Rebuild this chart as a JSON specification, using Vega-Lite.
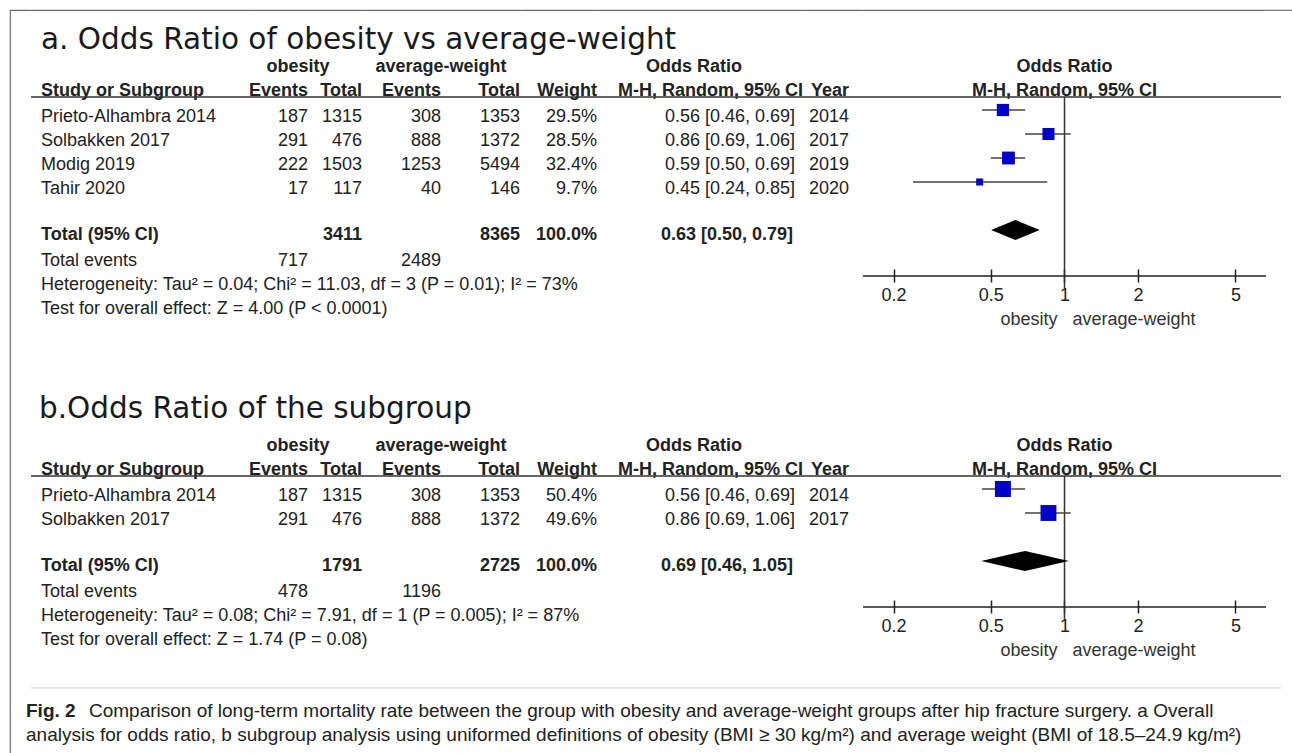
{
  "$schema": "https://vega.github.io/schema/vega-lite/v6.json",
  "background": "white",
  "padding": {"left": 9, "top": 9, "right": 0, "bottom": 0},
  "autosize": {"type": "pad"},
  "config": {
    "view": {"stroke": null},
    "text": {"font": "Liberation Sans", "fontSize": 18, "color": "#222", "baseline": "middle"}
  },
  "datasets": {
    "A": [
      {"row": "t", "title": "a. Odds Ratio of obesity vs average-weight"},
      {"row": "h1", "bold": true, "grp1": "obesity", "grp2": "average-weight", "cihead": "Odds Ratio", "plot": "Odds Ratio"},
      {"row": "h2", "bold": true, "study": "Study or Subgroup", "e1": "Events", "t1": "Total", "e2": "Events", "t2": "Total", "weight": "Weight", "cihead": "M-H, Random, 95% CI", "year": "Year", "plot": "M-H, Random, 95% CI"},
      {"row": "r1", "study": "Prieto-Alhambra 2014", "e1": 187, "t1": 1315, "e2": 308, "t2": 1353, "w": 0.295, "ci": "0.56 [0.46, 0.69]", "year": 2014, "or": 0.56, "lo": 0.46, "hi": 0.69},
      {"row": "r2", "study": "Solbakken 2017", "e1": 291, "t1": 476, "e2": 888, "t2": 1372, "w": 0.285, "ci": "0.86 [0.69, 1.06]", "year": 2017, "or": 0.86, "lo": 0.69, "hi": 1.06},
      {"row": "r3", "study": "Modig 2019", "e1": 222, "t1": 1503, "e2": 1253, "t2": 5494, "w": 0.324, "ci": "0.59 [0.50, 0.69]", "year": 2019, "or": 0.59, "lo": 0.50, "hi": 0.69},
      {"row": "r4", "study": "Tahir 2020", "e1": 17, "t1": 117, "e2": 40, "t2": 146, "w": 0.097, "ci": "0.45 [0.24, 0.85]", "year": 2020, "or": 0.45, "lo": 0.24, "hi": 0.85},
      {"row": "r6", "bold": true, "total": true, "study": "Total (95% CI)", "t1": 3411, "t2": 8365, "w": 1.0, "ci": "0.63 [0.50, 0.79]", "or": 0.63, "lo": 0.50, "hi": 0.79},
      {"row": "r7", "study": "Total events", "e1": 717, "e2": 2489},
      {"row": "r8", "study": "Heterogeneity: Tau² = 0.04; Chi² = 11.03, df = 3 (P = 0.01); I² = 73%"},
      {"row": "r9", "study": "Test for overall effect: Z = 4.00 (P < 0.0001)"}
    ],
    "B": [
      {"row": "t", "title": "b.Odds Ratio of the subgroup"},
      {"row": "h1", "bold": true, "grp1": "obesity", "grp2": "average-weight", "cihead": "Odds Ratio", "plot": "Odds Ratio"},
      {"row": "h2", "bold": true, "study": "Study or Subgroup", "e1": "Events", "t1": "Total", "e2": "Events", "t2": "Total", "weight": "Weight", "cihead": "M-H, Random, 95% CI", "year": "Year", "plot": "M-H, Random, 95% CI"},
      {"row": "r1", "study": "Prieto-Alhambra 2014", "e1": 187, "t1": 1315, "e2": 308, "t2": 1353, "w": 0.504, "ci": "0.56 [0.46, 0.69]", "year": 2014, "or": 0.56, "lo": 0.46, "hi": 0.69},
      {"row": "r2", "study": "Solbakken 2017", "e1": 291, "t1": 476, "e2": 888, "t2": 1372, "w": 0.496, "ci": "0.86 [0.69, 1.06]", "year": 2017, "or": 0.86, "lo": 0.69, "hi": 1.06},
      {"row": "r4", "bold": true, "total": true, "study": "Total (95% CI)", "t1": 1791, "t2": 2725, "w": 1.0, "ci": "0.69 [0.46, 1.05]", "or": 0.69, "lo": 0.46, "hi": 1.05},
      {"row": "r5", "study": "Total events", "e1": 478, "e2": 1196},
      {"row": "r6", "study": "Heterogeneity: Tau² = 0.08; Chi² = 7.91, df = 1 (P = 0.005); I² = 87%"},
      {"row": "r7", "study": "Test for overall effect: Z = 1.74 (P = 0.08)"}
    ],
    "C": [
      {"line": "c1", "sep": true},
      {"line": "c2", "lead": "Fig. 2", "text": "Comparison of long-term mortality rate between the group with obesity and average-weight groups after hip fracture surgery. a Overall"},
      {"line": "c3", "text": "analysis for odds ratio, b subgroup analysis using uniformed definitions of obesity (BMI ≥ 30 kg/m²) and average weight (BMI of 18.5–24.9 kg/m²)"}
    ]
  },
  "columns": 9,
  "spacing": 0,
  "bounds": "flush",
  "align": "each",
  "concat": [
    {"width": 21, "height": 379, "view": {"stroke": "#6e6e6e", "strokeWidth": 1.2, "strokeDash": [21, 400, 379, 0]}, "data": {"values": []}, "mark": "point", "encoding": {}},
    {"width": 223, "height": 379, "data": {"name": "A"}, "view": {"stroke": "#6e6e6e", "strokeWidth": 1.2, "strokeDash": [223, 981]}, "layer": [
      {"transform": [{"filter": "isValid(datum.title)"}], "mark": {"type": "text", "align": "left", "baseline": "alphabetic", "dx": 10, "font": "DejaVu Sans", "fontSize": 29.5, "color": "#1a1a1a"},
       "encoding": {"x": {"value": 0}, "y": {"field": "row", "type": "nominal", "bandPosition": 0.71, "scale": {"type": "band", "domain": ["t","h1","h2","r1","r2","r3","r4","r5","r6","r7","r8","r9","z1","z2"], "paddingInner": 0, "paddingOuter": 0.8958333333, "align": 0.511627907}, "axis": null}, "text": {"field": "title", "type": "nominal"}}},
      {"transform": [{"filter": "isValid(datum.study) && !datum.bold"}], "mark": {"type": "text", "align": "left", "dx": 10, "dy": 1},
       "encoding": {"x": {"value": 0}, "y": {"field": "row", "type": "nominal", "scale": {"type": "band", "domain": ["t","h1","h2","r1","r2","r3","r4","r5","r6","r7","r8","r9","z1","z2"], "paddingInner": 0, "paddingOuter": 0.8958333333, "align": 0.511627907}, "axis": null}, "text": {"field": "study", "type": "nominal"}}},
      {"transform": [{"filter": "isValid(datum.study) && datum.bold"}], "mark": {"type": "text", "align": "left", "dx": 10, "dy": -1.5, "fontWeight": "bold"},
       "encoding": {"x": {"value": 0}, "y": {"field": "row", "type": "nominal", "scale": {"type": "band", "domain": ["t","h1","h2","r1","r2","r3","r4","r5","r6","r7","r8","r9","z1","z2"], "paddingInner": 0, "paddingOuter": 0.8958333333, "align": 0.511627907}, "axis": null}, "text": {"field": "study", "type": "nominal"}}},
      {"transform": [{"filter": "datum.row == 'h2'"}], "mark": {"type": "rule", "color": "#333", "strokeWidth": 1.5},
       "encoding": {"y": {"field": "row", "type": "nominal", "bandPosition": 0.71, "scale": {"type": "band", "domain": ["t","h1","h2","r1","r2","r3","r4","r5","r6","r7","r8","r9","z1","z2"], "paddingInner": 0, "paddingOuter": 0.8958333333, "align": 0.511627907}, "axis": null}}}
    ]},
    {"width": 108, "height": 379, "data": {"name": "A"}, "view": {"stroke": "#6e6e6e", "strokeWidth": 1.2, "strokeDash": [108, 866]}, "layer": [
      {"transform": [{"fold": ["e1", "t1"], "as": ["col", "val"]}, {"filter": "isValid(datum.val) && !datum.bold"}], "mark": {"type": "text", "align": "right", "dy": 1},
       "encoding": {"x": {"field": "col", "type": "nominal", "bandPosition": 1, "scale": {"type": "band", "domain": ["e1", "t1"], "paddingInner": 0, "paddingOuter": 0}, "axis": null},
                    "y": {"field": "row", "type": "nominal", "scale": {"type": "band", "domain": ["t","h1","h2","r1","r2","r3","r4","r5","r6","r7","r8","r9","z1","z2"], "paddingInner": 0, "paddingOuter": 0.8958333333, "align": 0.511627907}, "axis": null}, "text": {"field": "val", "type": "nominal"}}},
      {"transform": [{"fold": ["e1", "t1"], "as": ["col", "val"]}, {"filter": "isValid(datum.val) && datum.bold"}], "mark": {"type": "text", "align": "right", "fontWeight": "bold", "dy": -1.5},
       "encoding": {"x": {"field": "col", "type": "nominal", "bandPosition": 1, "scale": {"type": "band", "domain": ["e1", "t1"], "paddingInner": 0, "paddingOuter": 0}, "axis": null},
                    "y": {"field": "row", "type": "nominal", "scale": {"type": "band", "domain": ["t","h1","h2","r1","r2","r3","r4","r5","r6","r7","r8","r9","z1","z2"], "paddingInner": 0, "paddingOuter": 0.8958333333, "align": 0.511627907}, "axis": null}, "text": {"field": "val", "type": "nominal"}}},
      {"transform": [{"filter": "isValid(datum.grp1)"}], "mark": {"type": "text", "fontWeight": "bold", "dy": -1.5, "dx": -10},
       "encoding": {"y": {"field": "row", "type": "nominal", "scale": {"type": "band", "domain": ["t","h1","h2","r1","r2","r3","r4","r5","r6","r7","r8","r9","z1","z2"], "paddingInner": 0, "paddingOuter": 0.8958333333, "align": 0.511627907}, "axis": null}, "text": {"field": "grp1", "type": "nominal"}}},
      {"transform": [{"filter": "datum.row == 'h2'"}], "mark": {"type": "rule", "color": "#333", "strokeWidth": 1.5},
       "encoding": {"y": {"field": "row", "type": "nominal", "bandPosition": 0.71, "scale": {"type": "band", "domain": ["t","h1","h2","r1","r2","r3","r4","r5","r6","r7","r8","r9","z1","z2"], "paddingInner": 0, "paddingOuter": 0.8958333333, "align": 0.511627907}, "axis": null}}}
    ]},
    {"width": 158, "height": 379, "data": {"name": "A"}, "view": {"stroke": "#6e6e6e", "strokeWidth": 1.2, "strokeDash": [158, 916]}, "layer": [
      {"transform": [{"fold": ["e2", "t2"], "as": ["col", "val"]}, {"filter": "isValid(datum.val) && !datum.bold"}], "mark": {"type": "text", "align": "right", "dy": 1},
       "encoding": {"x": {"field": "col", "type": "nominal", "bandPosition": 1, "scale": {"type": "band", "domain": ["e2", "t2"], "paddingInner": 0, "paddingOuter": 0}, "axis": null},
                    "y": {"field": "row", "type": "nominal", "scale": {"type": "band", "domain": ["t","h1","h2","r1","r2","r3","r4","r5","r6","r7","r8","r9","z1","z2"], "paddingInner": 0, "paddingOuter": 0.8958333333, "align": 0.511627907}, "axis": null}, "text": {"field": "val", "type": "nominal"}}},
      {"transform": [{"fold": ["e2", "t2"], "as": ["col", "val"]}, {"filter": "isValid(datum.val) && datum.bold"}], "mark": {"type": "text", "align": "right", "fontWeight": "bold", "dy": -1.5},
       "encoding": {"x": {"field": "col", "type": "nominal", "bandPosition": 1, "scale": {"type": "band", "domain": ["e2", "t2"], "paddingInner": 0, "paddingOuter": 0}, "axis": null},
                    "y": {"field": "row", "type": "nominal", "scale": {"type": "band", "domain": ["t","h1","h2","r1","r2","r3","r4","r5","r6","r7","r8","r9","z1","z2"], "paddingInner": 0, "paddingOuter": 0.8958333333, "align": 0.511627907}, "axis": null}, "text": {"field": "val", "type": "nominal"}}},
      {"transform": [{"filter": "isValid(datum.grp2)"}], "mark": {"type": "text", "fontWeight": "bold", "dy": -1.5},
       "encoding": {"y": {"field": "row", "type": "nominal", "scale": {"type": "band", "domain": ["t","h1","h2","r1","r2","r3","r4","r5","r6","r7","r8","r9","z1","z2"], "paddingInner": 0, "paddingOuter": 0.8958333333, "align": 0.511627907}, "axis": null}, "text": {"field": "grp2", "type": "nominal"}}},
      {"transform": [{"filter": "datum.row == 'h2'"}], "mark": {"type": "rule", "color": "#333", "strokeWidth": 1.5},
       "encoding": {"y": {"field": "row", "type": "nominal", "bandPosition": 0.71, "scale": {"type": "band", "domain": ["t","h1","h2","r1","r2","r3","r4","r5","r6","r7","r8","r9","z1","z2"], "paddingInner": 0, "paddingOuter": 0.8958333333, "align": 0.511627907}, "axis": null}}}
    ]},
    {"width": 77, "height": 379, "data": {"name": "A"}, "view": {"stroke": "#6e6e6e", "strokeWidth": 1.2, "strokeDash": [77, 835]}, "layer": [
      {"transform": [{"filter": "isValid(datum.w) && !datum.total"}], "mark": {"type": "text", "align": "right", "dy": 1},
       "encoding": {"x": {"value": "width"}, "y": {"field": "row", "type": "nominal", "scale": {"type": "band", "domain": ["t","h1","h2","r1","r2","r3","r4","r5","r6","r7","r8","r9","z1","z2"], "paddingInner": 0, "paddingOuter": 0.8958333333, "align": 0.511627907}, "axis": null}, "text": {"field": "w", "type": "quantitative", "format": ".1%"}}},
      {"transform": [{"filter": "datum.total"}], "mark": {"type": "text", "align": "right", "fontWeight": "bold", "dy": -1.5},
       "encoding": {"x": {"value": "width"}, "y": {"field": "row", "type": "nominal", "scale": {"type": "band", "domain": ["t","h1","h2","r1","r2","r3","r4","r5","r6","r7","r8","r9","z1","z2"], "paddingInner": 0, "paddingOuter": 0.8958333333, "align": 0.511627907}, "axis": null}, "text": {"field": "w", "type": "quantitative", "format": ".1%"}}},
      {"transform": [{"filter": "isValid(datum.weight)"}], "mark": {"type": "text", "align": "right", "fontWeight": "bold", "dy": -1.5},
       "encoding": {"x": {"value": "width"}, "y": {"field": "row", "type": "nominal", "scale": {"type": "band", "domain": ["t","h1","h2","r1","r2","r3","r4","r5","r6","r7","r8","r9","z1","z2"], "paddingInner": 0, "paddingOuter": 0.8958333333, "align": 0.511627907}, "axis": null}, "text": {"field": "weight", "type": "nominal"}}},
      {"transform": [{"filter": "datum.row == 'h2'"}], "mark": {"type": "rule", "color": "#333", "strokeWidth": 1.5},
       "encoding": {"y": {"field": "row", "type": "nominal", "bandPosition": 0.71, "scale": {"type": "band", "domain": ["t","h1","h2","r1","r2","r3","r4","r5","r6","r7","r8","r9","z1","z2"], "paddingInner": 0, "paddingOuter": 0.8958333333, "align": 0.511627907}, "axis": null}}}
    ]},
    {"width": 206, "height": 379, "data": {"name": "A"}, "view": {"stroke": "#6e6e6e", "strokeWidth": 1.2, "strokeDash": [206, 964]}, "layer": [
      {"transform": [{"filter": "isValid(datum.ci) && !datum.total"}], "mark": {"type": "text", "align": "right", "dx": -8, "dy": 1},
       "encoding": {"x": {"value": "width"}, "y": {"field": "row", "type": "nominal", "scale": {"type": "band", "domain": ["t","h1","h2","r1","r2","r3","r4","r5","r6","r7","r8","r9","z1","z2"], "paddingInner": 0, "paddingOuter": 0.8958333333, "align": 0.511627907}, "axis": null}, "text": {"field": "ci", "type": "nominal"}}},
      {"transform": [{"filter": "datum.total"}], "mark": {"type": "text", "align": "right", "dx": -10, "dy": -1.5, "fontWeight": "bold"},
       "encoding": {"x": {"value": "width"}, "y": {"field": "row", "type": "nominal", "scale": {"type": "band", "domain": ["t","h1","h2","r1","r2","r3","r4","r5","r6","r7","r8","r9","z1","z2"], "paddingInner": 0, "paddingOuter": 0.8958333333, "align": 0.511627907}, "axis": null}, "text": {"field": "ci", "type": "nominal"}}},
      {"transform": [{"filter": "datum.row == 'h2'"}], "mark": {"type": "text", "align": "right", "dy": -1.5, "fontWeight": "bold"},
       "encoding": {"x": {"value": "width"}, "y": {"field": "row", "type": "nominal", "scale": {"type": "band", "domain": ["t","h1","h2","r1","r2","r3","r4","r5","r6","r7","r8","r9","z1","z2"], "paddingInner": 0, "paddingOuter": 0.8958333333, "align": 0.511627907}, "axis": null}, "text": {"field": "cihead", "type": "nominal"}}},
      {"transform": [{"filter": "datum.row == 'h1'"}], "mark": {"type": "text", "dx": -6, "dy": -1.5, "fontWeight": "bold"},
       "encoding": {"y": {"field": "row", "type": "nominal", "scale": {"type": "band", "domain": ["t","h1","h2","r1","r2","r3","r4","r5","r6","r7","r8","r9","z1","z2"], "paddingInner": 0, "paddingOuter": 0.8958333333, "align": 0.511627907}, "axis": null}, "text": {"field": "cihead", "type": "nominal"}}},
      {"transform": [{"filter": "datum.row == 'h2'"}], "mark": {"type": "rule", "color": "#333", "strokeWidth": 1.5},
       "encoding": {"y": {"field": "row", "type": "nominal", "bandPosition": 0.71, "scale": {"type": "band", "domain": ["t","h1","h2","r1","r2","r3","r4","r5","r6","r7","r8","r9","z1","z2"], "paddingInner": 0, "paddingOuter": 0.8958333333, "align": 0.511627907}, "axis": null}}}
    ]},
    {"width": 60, "height": 379, "data": {"name": "A"}, "view": {"stroke": "#6e6e6e", "strokeWidth": 1.2, "strokeDash": [60, 818]}, "layer": [
      {"transform": [{"filter": "isValid(datum.year) && !datum.bold"}], "mark": {"type": "text", "align": "right", "dx": -14, "dy": 1},
       "encoding": {"x": {"value": "width"}, "y": {"field": "row", "type": "nominal", "scale": {"type": "band", "domain": ["t","h1","h2","r1","r2","r3","r4","r5","r6","r7","r8","r9","z1","z2"], "paddingInner": 0, "paddingOuter": 0.8958333333, "align": 0.511627907}, "axis": null}, "text": {"field": "year", "type": "nominal"}}},
      {"transform": [{"filter": "isValid(datum.year) && datum.bold"}], "mark": {"type": "text", "align": "right", "dx": -14, "dy": -1.5, "fontWeight": "bold"},
       "encoding": {"x": {"value": "width"}, "y": {"field": "row", "type": "nominal", "scale": {"type": "band", "domain": ["t","h1","h2","r1","r2","r3","r4","r5","r6","r7","r8","r9","z1","z2"], "paddingInner": 0, "paddingOuter": 0.8958333333, "align": 0.511627907}, "axis": null}, "text": {"field": "year", "type": "nominal"}}},
      {"transform": [{"filter": "datum.row == 'h2'"}], "mark": {"type": "rule", "color": "#333", "strokeWidth": 1.5},
       "encoding": {"y": {"field": "row", "type": "nominal", "bandPosition": 0.71, "scale": {"type": "band", "domain": ["t","h1","h2","r1","r2","r3","r4","r5","r6","r7","r8","r9","z1","z2"], "paddingInner": 0, "paddingOuter": 0.8958333333, "align": 0.511627907}, "axis": null}}}
    ]},
    {"width": 403, "height": 379, "data": {"name": "A"}, "view": {"stroke": "#6e6e6e", "strokeWidth": 1.2, "strokeDash": [403, 1161]}, "layer": [
      {"transform": [{"filter": "isValid(datum.plot)"}], "mark": {"type": "text", "fontWeight": "bold", "dy": -1.5},
       "encoding": {"x": {"datum": 1, "type": "quantitative", "scale": {"type": "log", "domain": [0.15, 6.667]}},
                    "y": {"field": "row", "type": "nominal", "scale": {"type": "band", "domain": ["t","h1","h2","r1","r2","r3","r4","r5","r6","r7","r8","r9","z1","z2"], "paddingInner": 0, "paddingOuter": 0.8958333333, "align": 0.511627907}, "axis": null}, "text": {"field": "plot", "type": "nominal"}}},
      {"transform": [{"filter": "datum.row == 'h2'"}], "mark": {"type": "rule", "color": "#333", "strokeWidth": 1.5},
       "encoding": {"x": {"datum": 0.15, "type": "quantitative", "scale": {"type": "log", "domain": [0.15, 6.667]}}, "x2": {"datum": 7.68},
                    "y": {"field": "row", "type": "nominal", "bandPosition": 0.71, "scale": {"type": "band", "domain": ["t","h1","h2","r1","r2","r3","r4","r5","r6","r7","r8","r9","z1","z2"], "paddingInner": 0, "paddingOuter": 0.8958333333, "align": 0.511627907}, "axis": null}}},
      {"transform": [{"filter": "datum.row == 'h2'"}], "mark": {"type": "rule", "color": "#333", "strokeWidth": 1.5, "y2Offset": 4},
       "encoding": {"x": {"datum": 1, "type": "quantitative", "scale": {"type": "log", "domain": [0.15, 6.667]}},
                    "y": {"field": "row", "type": "nominal", "bandPosition": 0.71, "scale": {"type": "band", "domain": ["t","h1","h2","r1","r2","r3","r4","r5","r6","r7","r8","r9","z1","z2"], "paddingInner": 0, "paddingOuter": 0.8958333333, "align": 0.511627907}, "axis": null},
                    "y2": {"datum": "r8"}}},
      {"transform": [{"filter": "datum.row == 'r8'"}], "mark": {"type": "rule", "color": "#222", "strokeWidth": 1.5},
       "encoding": {"x": {"datum": 0.15, "type": "quantitative", "scale": {"type": "log", "domain": [0.15, 6.667]}}, "x2": {"datum": 6.667},
                    "y": {"field": "row", "type": "nominal", "bandPosition": 0.17, "scale": {"type": "band", "domain": ["t","h1","h2","r1","r2","r3","r4","r5","r6","r7","r8","r9","z1","z2"], "paddingInner": 0, "paddingOuter": 0.8958333333, "align": 0.511627907}, "axis": null}}},
      {"transform": [{"filter": "isValid(datum.lo) && !datum.total"}], "mark": {"type": "rule", "color": "#444", "strokeWidth": 1.5},
       "encoding": {"x": {"field": "lo", "type": "quantitative", "scale": {"type": "log", "domain": [0.15, 6.667]}, "axis": {"title": null}}, "x2": {"field": "hi"},
                    "y": {"field": "row", "type": "nominal", "bandPosition": 0.25, "scale": {"type": "band", "domain": ["t","h1","h2","r1","r2","r3","r4","r5","r6","r7","r8","r9","z1","z2"], "paddingInner": 0, "paddingOuter": 0.8958333333, "align": 0.511627907}, "axis": null}}},
      {"transform": [{"filter": "isValid(datum.or) && !datum.total"}], "mark": {"type": "point", "shape": "square", "filled": true, "color": "#0000c8", "opacity": 1},
       "encoding": {"x": {"field": "or", "type": "quantitative", "scale": {"type": "log", "domain": [0.15, 6.667]},
                          "axis": {"title": null, "orient": "bottom", "offset": -120, "values": [0.2, 0.5, 1, 2, 5], "format": "~g", "domain": false, "grid": false, "ticks": true, "tickSize": 13, "tickWidth": 1.5, "tickColor": "#222", "labelFont": "Liberation Sans", "labelFontSize": 18, "labelColor": "#222", "labelPadding": 4}},
                    "y": {"field": "row", "type": "nominal", "bandPosition": 0.25, "scale": {"type": "band", "domain": ["t","h1","h2","r1","r2","r3","r4","r5","r6","r7","r8","r9","z1","z2"], "paddingInner": 0, "paddingOuter": 0.8958333333, "align": 0.511627907}, "axis": null},
                    "size": {"field": "w", "type": "quantitative", "scale": {"domain": [0, 0.504], "range": [0, 256]}, "legend": null}}},
      {"transform": [{"filter": "datum.total"}], "mark": {"type": "point", "shape": "M-1,0L0,-0.41L1,0L0,0.41Z", "filled": true, "color": "#000", "opacity": 1, "size": 2362},
       "encoding": {"x": {"field": "or", "type": "quantitative", "scale": {"type": "log", "domain": [0.15, 6.667]}, "axis": {"title": null}},
                    "y": {"field": "row", "type": "nominal", "bandPosition": 0.25, "scale": {"type": "band", "domain": ["t","h1","h2","r1","r2","r3","r4","r5","r6","r7","r8","r9","z1","z2"], "paddingInner": 0, "paddingOuter": 0.8958333333, "align": 0.511627907}, "axis": null}}},
      {"data": {"values": [{"row": "r9", "label": "obesity"}]}, "mark": {"type": "text", "align": "right", "dx": -7, "color": "#333"},
       "encoding": {"x": {"datum": 1, "type": "quantitative", "scale": {"type": "log", "domain": [0.15, 6.667]}}, "y": {"field": "row", "type": "nominal", "bandPosition": 1, "scale": {"type": "band", "domain": ["t","h1","h2","r1","r2","r3","r4","r5","r6","r7","r8","r9","z1","z2"], "paddingInner": 0, "paddingOuter": 0.8958333333, "align": 0.511627907}, "axis": null}, "text": {"field": "label", "type": "nominal"}}},
      {"data": {"values": [{"row": "r9", "label": "average-weight"}]}, "mark": {"type": "text", "align": "left", "dx": 8, "color": "#333"},
       "encoding": {"x": {"datum": 1, "type": "quantitative", "scale": {"type": "log", "domain": [0.15, 6.667]}}, "y": {"field": "row", "type": "nominal", "bandPosition": 1, "scale": {"type": "band", "domain": ["t","h1","h2","r1","r2","r3","r4","r5","r6","r7","r8","r9","z1","z2"], "paddingInner": 0, "paddingOuter": 0.8958333333, "align": 0.511627907}, "axis": null}, "text": {"field": "label", "type": "nominal"}}}
    ]},
    {"width": 26, "height": 379, "view": {"stroke": "#6e6e6e", "strokeWidth": 1.2, "strokeDash": [26, 784]}, "data": {"values": []}, "mark": "point", "encoding": {}},

    {"width": 21, "height": 364, "view": {"stroke": "#6e6e6e", "strokeWidth": 1.2, "strokeDash": [0, 406, 364, 0]}, "data": {"values": []}, "mark": "point", "encoding": {}},
    {"width": 223, "height": 364, "data": {"name": "B"}, "layer": [
      {"transform": [{"filter": "isValid(datum.title)"}], "mark": {"type": "text", "align": "left", "baseline": "alphabetic", "dx": 8, "font": "DejaVu Sans", "fontSize": 29.5, "color": "#1a1a1a"},
       "encoding": {"x": {"value": 0}, "y": {"field": "row", "type": "nominal", "bandPosition": 0.29, "scale": {"type": "band", "domain": ["t","h1","h2","r1","r2","r3","r4","r5","r6","r7","c0","c1","c2","c3"], "paddingInner": 0, "paddingOuter": 0.5833333333, "align": 0.7857142857}, "axis": null}, "text": {"field": "title", "type": "nominal"}}},
      {"transform": [{"filter": "isValid(datum.study) && !datum.bold"}], "mark": {"type": "text", "align": "left", "dx": 10, "dy": 1},
       "encoding": {"x": {"value": 0}, "y": {"field": "row", "type": "nominal", "scale": {"type": "band", "domain": ["t","h1","h2","r1","r2","r3","r4","r5","r6","r7","c0","c1","c2","c3"], "paddingInner": 0, "paddingOuter": 0.5833333333, "align": 0.7857142857}, "axis": null}, "text": {"field": "study", "type": "nominal"}}},
      {"transform": [{"filter": "isValid(datum.study) && datum.bold"}], "mark": {"type": "text", "align": "left", "dx": 10, "dy": -1.5, "fontWeight": "bold"},
       "encoding": {"x": {"value": 0}, "y": {"field": "row", "type": "nominal", "scale": {"type": "band", "domain": ["t","h1","h2","r1","r2","r3","r4","r5","r6","r7","c0","c1","c2","c3"], "paddingInner": 0, "paddingOuter": 0.5833333333, "align": 0.7857142857}, "axis": null}, "text": {"field": "study", "type": "nominal"}}},
      {"transform": [{"filter": "datum.row == 'h2'"}], "mark": {"type": "rule", "color": "#333", "strokeWidth": 1.5},
       "encoding": {"y": {"field": "row", "type": "nominal", "bandPosition": 0.71, "scale": {"type": "band", "domain": ["t","h1","h2","r1","r2","r3","r4","r5","r6","r7","c0","c1","c2","c3"], "paddingInner": 0, "paddingOuter": 0.5833333333, "align": 0.7857142857}, "axis": null}}},
      {"data": {"name": "C"}, "transform": [{"filter": "datum.sep"}], "mark": {"type": "rule", "color": "#d0d0d0", "strokeWidth": 1},
       "encoding": {"y": {"field": "line", "type": "nominal", "bandPosition": 0.54, "scale": {"type": "band", "domain": ["t","h1","h2","r1","r2","r3","r4","r5","r6","r7","c0","c1","c2","c3"], "paddingInner": 0, "paddingOuter": 0.5833333333, "align": 0.7857142857}, "axis": null}}},
      {"data": {"name": "C"}, "transform": [{"filter": "datum.line == 'c2'"}], "mark": {"type": "text", "align": "left", "dx": 58, "fontSize": 19, "color": "#222"},
       "encoding": {"x": {"value": 0}, "y": {"field": "line", "type": "nominal", "scale": {"type": "band", "domain": ["t","h1","h2","r1","r2","r3","r4","r5","r6","r7","c0","c1","c2","c3"], "paddingInner": 0, "paddingOuter": 0.5833333333, "align": 0.7857142857}, "axis": null}, "text": {"field": "text", "type": "nominal"}}},
      {"data": {"name": "C"}, "transform": [{"filter": "datum.line == 'c3'"}], "mark": {"type": "text", "align": "left", "dx": -5, "fontSize": 19, "color": "#222"},
       "encoding": {"x": {"value": 0}, "y": {"field": "line", "type": "nominal", "scale": {"type": "band", "domain": ["t","h1","h2","r1","r2","r3","r4","r5","r6","r7","c0","c1","c2","c3"], "paddingInner": 0, "paddingOuter": 0.5833333333, "align": 0.7857142857}, "axis": null}, "text": {"field": "text", "type": "nominal"}}},
      {"data": {"name": "C"}, "transform": [{"filter": "isValid(datum.lead)"}], "mark": {"type": "text", "align": "left", "dx": -5, "fontSize": 19, "fontWeight": "bold", "color": "#222"},
       "encoding": {"x": {"value": 0}, "y": {"field": "line", "type": "nominal", "scale": {"type": "band", "domain": ["t","h1","h2","r1","r2","r3","r4","r5","r6","r7","c0","c1","c2","c3"], "paddingInner": 0, "paddingOuter": 0.5833333333, "align": 0.7857142857}, "axis": null}, "text": {"field": "lead", "type": "nominal"}}}
    ]},
    {"width": 108, "height": 364, "data": {"name": "B"}, "layer": [
      {"transform": [{"fold": ["e1", "t1"], "as": ["col", "val"]}, {"filter": "isValid(datum.val) && !datum.bold"}], "mark": {"type": "text", "align": "right", "dy": 1},
       "encoding": {"x": {"field": "col", "type": "nominal", "bandPosition": 1, "scale": {"type": "band", "domain": ["e1", "t1"], "paddingInner": 0, "paddingOuter": 0}, "axis": null},
                    "y": {"field": "row", "type": "nominal", "scale": {"type": "band", "domain": ["t","h1","h2","r1","r2","r3","r4","r5","r6","r7","c0","c1","c2","c3"], "paddingInner": 0, "paddingOuter": 0.5833333333, "align": 0.7857142857}, "axis": null}, "text": {"field": "val", "type": "nominal"}}},
      {"transform": [{"fold": ["e1", "t1"], "as": ["col", "val"]}, {"filter": "isValid(datum.val) && datum.bold"}], "mark": {"type": "text", "align": "right", "fontWeight": "bold", "dy": -1.5},
       "encoding": {"x": {"field": "col", "type": "nominal", "bandPosition": 1, "scale": {"type": "band", "domain": ["e1", "t1"], "paddingInner": 0, "paddingOuter": 0}, "axis": null},
                    "y": {"field": "row", "type": "nominal", "scale": {"type": "band", "domain": ["t","h1","h2","r1","r2","r3","r4","r5","r6","r7","c0","c1","c2","c3"], "paddingInner": 0, "paddingOuter": 0.5833333333, "align": 0.7857142857}, "axis": null}, "text": {"field": "val", "type": "nominal"}}},
      {"transform": [{"filter": "isValid(datum.grp1)"}], "mark": {"type": "text", "fontWeight": "bold", "dy": -1.5, "dx": -10},
       "encoding": {"y": {"field": "row", "type": "nominal", "scale": {"type": "band", "domain": ["t","h1","h2","r1","r2","r3","r4","r5","r6","r7","c0","c1","c2","c3"], "paddingInner": 0, "paddingOuter": 0.5833333333, "align": 0.7857142857}, "axis": null}, "text": {"field": "grp1", "type": "nominal"}}},
      {"transform": [{"filter": "datum.row == 'h2'"}], "mark": {"type": "rule", "color": "#333", "strokeWidth": 1.5},
       "encoding": {"y": {"field": "row", "type": "nominal", "bandPosition": 0.71, "scale": {"type": "band", "domain": ["t","h1","h2","r1","r2","r3","r4","r5","r6","r7","c0","c1","c2","c3"], "paddingInner": 0, "paddingOuter": 0.5833333333, "align": 0.7857142857}, "axis": null}}},
      {"data": {"name": "C"}, "transform": [{"filter": "datum.sep"}], "mark": {"type": "rule", "color": "#d0d0d0", "strokeWidth": 1},
       "encoding": {"y": {"field": "line", "type": "nominal", "bandPosition": 0.54, "scale": {"type": "band", "domain": ["t","h1","h2","r1","r2","r3","r4","r5","r6","r7","c0","c1","c2","c3"], "paddingInner": 0, "paddingOuter": 0.5833333333, "align": 0.7857142857}, "axis": null}}}
    ]},
    {"width": 158, "height": 364, "data": {"name": "B"}, "layer": [
      {"transform": [{"fold": ["e2", "t2"], "as": ["col", "val"]}, {"filter": "isValid(datum.val) && !datum.bold"}], "mark": {"type": "text", "align": "right", "dy": 1},
       "encoding": {"x": {"field": "col", "type": "nominal", "bandPosition": 1, "scale": {"type": "band", "domain": ["e2", "t2"], "paddingInner": 0, "paddingOuter": 0}, "axis": null},
                    "y": {"field": "row", "type": "nominal", "scale": {"type": "band", "domain": ["t","h1","h2","r1","r2","r3","r4","r5","r6","r7","c0","c1","c2","c3"], "paddingInner": 0, "paddingOuter": 0.5833333333, "align": 0.7857142857}, "axis": null}, "text": {"field": "val", "type": "nominal"}}},
      {"transform": [{"fold": ["e2", "t2"], "as": ["col", "val"]}, {"filter": "isValid(datum.val) && datum.bold"}], "mark": {"type": "text", "align": "right", "fontWeight": "bold", "dy": -1.5},
       "encoding": {"x": {"field": "col", "type": "nominal", "bandPosition": 1, "scale": {"type": "band", "domain": ["e2", "t2"], "paddingInner": 0, "paddingOuter": 0}, "axis": null},
                    "y": {"field": "row", "type": "nominal", "scale": {"type": "band", "domain": ["t","h1","h2","r1","r2","r3","r4","r5","r6","r7","c0","c1","c2","c3"], "paddingInner": 0, "paddingOuter": 0.5833333333, "align": 0.7857142857}, "axis": null}, "text": {"field": "val", "type": "nominal"}}},
      {"transform": [{"filter": "isValid(datum.grp2)"}], "mark": {"type": "text", "fontWeight": "bold", "dy": -1.5},
       "encoding": {"y": {"field": "row", "type": "nominal", "scale": {"type": "band", "domain": ["t","h1","h2","r1","r2","r3","r4","r5","r6","r7","c0","c1","c2","c3"], "paddingInner": 0, "paddingOuter": 0.5833333333, "align": 0.7857142857}, "axis": null}, "text": {"field": "grp2", "type": "nominal"}}},
      {"transform": [{"filter": "datum.row == 'h2'"}], "mark": {"type": "rule", "color": "#333", "strokeWidth": 1.5},
       "encoding": {"y": {"field": "row", "type": "nominal", "bandPosition": 0.71, "scale": {"type": "band", "domain": ["t","h1","h2","r1","r2","r3","r4","r5","r6","r7","c0","c1","c2","c3"], "paddingInner": 0, "paddingOuter": 0.5833333333, "align": 0.7857142857}, "axis": null}}},
      {"data": {"name": "C"}, "transform": [{"filter": "datum.sep"}], "mark": {"type": "rule", "color": "#d0d0d0", "strokeWidth": 1},
       "encoding": {"y": {"field": "line", "type": "nominal", "bandPosition": 0.54, "scale": {"type": "band", "domain": ["t","h1","h2","r1","r2","r3","r4","r5","r6","r7","c0","c1","c2","c3"], "paddingInner": 0, "paddingOuter": 0.5833333333, "align": 0.7857142857}, "axis": null}}}
    ]},
    {"width": 77, "height": 364, "data": {"name": "B"}, "layer": [
      {"transform": [{"filter": "isValid(datum.w) && !datum.total"}], "mark": {"type": "text", "align": "right", "dy": 1},
       "encoding": {"x": {"value": "width"}, "y": {"field": "row", "type": "nominal", "scale": {"type": "band", "domain": ["t","h1","h2","r1","r2","r3","r4","r5","r6","r7","c0","c1","c2","c3"], "paddingInner": 0, "paddingOuter": 0.5833333333, "align": 0.7857142857}, "axis": null}, "text": {"field": "w", "type": "quantitative", "format": ".1%"}}},
      {"transform": [{"filter": "datum.total"}], "mark": {"type": "text", "align": "right", "fontWeight": "bold", "dy": -1.5},
       "encoding": {"x": {"value": "width"}, "y": {"field": "row", "type": "nominal", "scale": {"type": "band", "domain": ["t","h1","h2","r1","r2","r3","r4","r5","r6","r7","c0","c1","c2","c3"], "paddingInner": 0, "paddingOuter": 0.5833333333, "align": 0.7857142857}, "axis": null}, "text": {"field": "w", "type": "quantitative", "format": ".1%"}}},
      {"transform": [{"filter": "isValid(datum.weight)"}], "mark": {"type": "text", "align": "right", "fontWeight": "bold", "dy": -1.5},
       "encoding": {"x": {"value": "width"}, "y": {"field": "row", "type": "nominal", "scale": {"type": "band", "domain": ["t","h1","h2","r1","r2","r3","r4","r5","r6","r7","c0","c1","c2","c3"], "paddingInner": 0, "paddingOuter": 0.5833333333, "align": 0.7857142857}, "axis": null}, "text": {"field": "weight", "type": "nominal"}}},
      {"transform": [{"filter": "datum.row == 'h2'"}], "mark": {"type": "rule", "color": "#333", "strokeWidth": 1.5},
       "encoding": {"y": {"field": "row", "type": "nominal", "bandPosition": 0.71, "scale": {"type": "band", "domain": ["t","h1","h2","r1","r2","r3","r4","r5","r6","r7","c0","c1","c2","c3"], "paddingInner": 0, "paddingOuter": 0.5833333333, "align": 0.7857142857}, "axis": null}}},
      {"data": {"name": "C"}, "transform": [{"filter": "datum.sep"}], "mark": {"type": "rule", "color": "#d0d0d0", "strokeWidth": 1},
       "encoding": {"y": {"field": "line", "type": "nominal", "bandPosition": 0.54, "scale": {"type": "band", "domain": ["t","h1","h2","r1","r2","r3","r4","r5","r6","r7","c0","c1","c2","c3"], "paddingInner": 0, "paddingOuter": 0.5833333333, "align": 0.7857142857}, "axis": null}}}
    ]},
    {"width": 206, "height": 364, "data": {"name": "B"}, "layer": [
      {"transform": [{"filter": "isValid(datum.ci) && !datum.total"}], "mark": {"type": "text", "align": "right", "dx": -8, "dy": 1},
       "encoding": {"x": {"value": "width"}, "y": {"field": "row", "type": "nominal", "scale": {"type": "band", "domain": ["t","h1","h2","r1","r2","r3","r4","r5","r6","r7","c0","c1","c2","c3"], "paddingInner": 0, "paddingOuter": 0.5833333333, "align": 0.7857142857}, "axis": null}, "text": {"field": "ci", "type": "nominal"}}},
      {"transform": [{"filter": "datum.total"}], "mark": {"type": "text", "align": "right", "dx": -10, "dy": -1.5, "fontWeight": "bold"},
       "encoding": {"x": {"value": "width"}, "y": {"field": "row", "type": "nominal", "scale": {"type": "band", "domain": ["t","h1","h2","r1","r2","r3","r4","r5","r6","r7","c0","c1","c2","c3"], "paddingInner": 0, "paddingOuter": 0.5833333333, "align": 0.7857142857}, "axis": null}, "text": {"field": "ci", "type": "nominal"}}},
      {"transform": [{"filter": "datum.row == 'h2'"}], "mark": {"type": "text", "align": "right", "dy": -1.5, "fontWeight": "bold"},
       "encoding": {"x": {"value": "width"}, "y": {"field": "row", "type": "nominal", "scale": {"type": "band", "domain": ["t","h1","h2","r1","r2","r3","r4","r5","r6","r7","c0","c1","c2","c3"], "paddingInner": 0, "paddingOuter": 0.5833333333, "align": 0.7857142857}, "axis": null}, "text": {"field": "cihead", "type": "nominal"}}},
      {"transform": [{"filter": "datum.row == 'h1'"}], "mark": {"type": "text", "dx": -6, "dy": -1.5, "fontWeight": "bold"},
       "encoding": {"y": {"field": "row", "type": "nominal", "scale": {"type": "band", "domain": ["t","h1","h2","r1","r2","r3","r4","r5","r6","r7","c0","c1","c2","c3"], "paddingInner": 0, "paddingOuter": 0.5833333333, "align": 0.7857142857}, "axis": null}, "text": {"field": "cihead", "type": "nominal"}}},
      {"transform": [{"filter": "datum.row == 'h2'"}], "mark": {"type": "rule", "color": "#333", "strokeWidth": 1.5},
       "encoding": {"y": {"field": "row", "type": "nominal", "bandPosition": 0.71, "scale": {"type": "band", "domain": ["t","h1","h2","r1","r2","r3","r4","r5","r6","r7","c0","c1","c2","c3"], "paddingInner": 0, "paddingOuter": 0.5833333333, "align": 0.7857142857}, "axis": null}}},
      {"data": {"name": "C"}, "transform": [{"filter": "datum.sep"}], "mark": {"type": "rule", "color": "#d0d0d0", "strokeWidth": 1},
       "encoding": {"y": {"field": "line", "type": "nominal", "bandPosition": 0.54, "scale": {"type": "band", "domain": ["t","h1","h2","r1","r2","r3","r4","r5","r6","r7","c0","c1","c2","c3"], "paddingInner": 0, "paddingOuter": 0.5833333333, "align": 0.7857142857}, "axis": null}}}
    ]},
    {"width": 60, "height": 364, "data": {"name": "B"}, "layer": [
      {"transform": [{"filter": "isValid(datum.year) && !datum.bold"}], "mark": {"type": "text", "align": "right", "dx": -14, "dy": 1},
       "encoding": {"x": {"value": "width"}, "y": {"field": "row", "type": "nominal", "scale": {"type": "band", "domain": ["t","h1","h2","r1","r2","r3","r4","r5","r6","r7","c0","c1","c2","c3"], "paddingInner": 0, "paddingOuter": 0.5833333333, "align": 0.7857142857}, "axis": null}, "text": {"field": "year", "type": "nominal"}}},
      {"transform": [{"filter": "isValid(datum.year) && datum.bold"}], "mark": {"type": "text", "align": "right", "dx": -14, "dy": -1.5, "fontWeight": "bold"},
       "encoding": {"x": {"value": "width"}, "y": {"field": "row", "type": "nominal", "scale": {"type": "band", "domain": ["t","h1","h2","r1","r2","r3","r4","r5","r6","r7","c0","c1","c2","c3"], "paddingInner": 0, "paddingOuter": 0.5833333333, "align": 0.7857142857}, "axis": null}, "text": {"field": "year", "type": "nominal"}}},
      {"transform": [{"filter": "datum.row == 'h2'"}], "mark": {"type": "rule", "color": "#333", "strokeWidth": 1.5},
       "encoding": {"y": {"field": "row", "type": "nominal", "bandPosition": 0.71, "scale": {"type": "band", "domain": ["t","h1","h2","r1","r2","r3","r4","r5","r6","r7","c0","c1","c2","c3"], "paddingInner": 0, "paddingOuter": 0.5833333333, "align": 0.7857142857}, "axis": null}}},
      {"data": {"name": "C"}, "transform": [{"filter": "datum.sep"}], "mark": {"type": "rule", "color": "#d0d0d0", "strokeWidth": 1},
       "encoding": {"y": {"field": "line", "type": "nominal", "bandPosition": 0.54, "scale": {"type": "band", "domain": ["t","h1","h2","r1","r2","r3","r4","r5","r6","r7","c0","c1","c2","c3"], "paddingInner": 0, "paddingOuter": 0.5833333333, "align": 0.7857142857}, "axis": null}}}
    ]},
    {"width": 403, "height": 364, "data": {"name": "B"}, "layer": [
      {"transform": [{"filter": "isValid(datum.plot)"}], "mark": {"type": "text", "fontWeight": "bold", "dy": -1.5},
       "encoding": {"x": {"datum": 1, "type": "quantitative", "scale": {"type": "log", "domain": [0.15, 6.667]}},
                    "y": {"field": "row", "type": "nominal", "scale": {"type": "band", "domain": ["t","h1","h2","r1","r2","r3","r4","r5","r6","r7","c0","c1","c2","c3"], "paddingInner": 0, "paddingOuter": 0.5833333333, "align": 0.7857142857}, "axis": null}, "text": {"field": "plot", "type": "nominal"}}},
      {"transform": [{"filter": "datum.row == 'h2'"}], "mark": {"type": "rule", "color": "#333", "strokeWidth": 1.5},
       "encoding": {"x": {"datum": 0.15, "type": "quantitative", "scale": {"type": "log", "domain": [0.15, 6.667]}}, "x2": {"datum": 7.68},
                    "y": {"field": "row", "type": "nominal", "bandPosition": 0.71, "scale": {"type": "band", "domain": ["t","h1","h2","r1","r2","r3","r4","r5","r6","r7","c0","c1","c2","c3"], "paddingInner": 0, "paddingOuter": 0.5833333333, "align": 0.7857142857}, "axis": null}}},
      {"transform": [{"filter": "datum.row == 'h2'"}], "mark": {"type": "rule", "color": "#333", "strokeWidth": 1.5, "y2Offset": 4},
       "encoding": {"x": {"datum": 1, "type": "quantitative", "scale": {"type": "log", "domain": [0.15, 6.667]}},
                    "y": {"field": "row", "type": "nominal", "bandPosition": 0.71, "scale": {"type": "band", "domain": ["t","h1","h2","r1","r2","r3","r4","r5","r6","r7","c0","c1","c2","c3"], "paddingInner": 0, "paddingOuter": 0.5833333333, "align": 0.7857142857}, "axis": null},
                    "y2": {"datum": "r6"}}},
      {"transform": [{"filter": "datum.row == 'r6'"}], "mark": {"type": "rule", "color": "#222", "strokeWidth": 1.5},
       "encoding": {"x": {"datum": 0.15, "type": "quantitative", "scale": {"type": "log", "domain": [0.15, 6.667]}}, "x2": {"datum": 6.667},
                    "y": {"field": "row", "type": "nominal", "bandPosition": 0.17, "scale": {"type": "band", "domain": ["t","h1","h2","r1","r2","r3","r4","r5","r6","r7","c0","c1","c2","c3"], "paddingInner": 0, "paddingOuter": 0.5833333333, "align": 0.7857142857}, "axis": null}}},
      {"transform": [{"filter": "isValid(datum.lo) && !datum.total"}], "mark": {"type": "rule", "color": "#444", "strokeWidth": 1.5},
       "encoding": {"x": {"field": "lo", "type": "quantitative", "scale": {"type": "log", "domain": [0.15, 6.667]}, "axis": {"title": null}}, "x2": {"field": "hi"},
                    "y": {"field": "row", "type": "nominal", "bandPosition": 0.25, "scale": {"type": "band", "domain": ["t","h1","h2","r1","r2","r3","r4","r5","r6","r7","c0","c1","c2","c3"], "paddingInner": 0, "paddingOuter": 0.5833333333, "align": 0.7857142857}, "axis": null}}},
      {"transform": [{"filter": "isValid(datum.or) && !datum.total"}], "mark": {"type": "point", "shape": "square", "filled": true, "color": "#0000c8", "opacity": 1},
       "encoding": {"x": {"field": "or", "type": "quantitative", "scale": {"type": "log", "domain": [0.15, 6.667]},
                          "axis": {"title": null, "orient": "bottom", "offset": -153, "values": [0.2, 0.5, 1, 2, 5], "format": "~g", "domain": false, "grid": false, "ticks": true, "tickSize": 13, "tickWidth": 1.5, "tickColor": "#222", "labelFont": "Liberation Sans", "labelFontSize": 18, "labelColor": "#222", "labelPadding": 4}},
                    "y": {"field": "row", "type": "nominal", "bandPosition": 0.25, "scale": {"type": "band", "domain": ["t","h1","h2","r1","r2","r3","r4","r5","r6","r7","c0","c1","c2","c3"], "paddingInner": 0, "paddingOuter": 0.5833333333, "align": 0.7857142857}, "axis": null},
                    "size": {"field": "w", "type": "quantitative", "scale": {"domain": [0, 0.504], "range": [0, 256]}, "legend": null}}},
      {"transform": [{"filter": "datum.total"}], "mark": {"type": "point", "shape": "M-1,0L0,-0.228L1,0L0,0.228Z", "filled": true, "color": "#000", "opacity": 1, "size": 7691},
       "encoding": {"x": {"field": "or", "type": "quantitative", "scale": {"type": "log", "domain": [0.15, 6.667]}, "axis": {"title": null}},
                    "y": {"field": "row", "type": "nominal", "bandPosition": 0.25, "scale": {"type": "band", "domain": ["t","h1","h2","r1","r2","r3","r4","r5","r6","r7","c0","c1","c2","c3"], "paddingInner": 0, "paddingOuter": 0.5833333333, "align": 0.7857142857}, "axis": null}}},
      {"data": {"values": [{"row": "r7", "label": "obesity"}]}, "mark": {"type": "text", "align": "right", "dx": -7, "color": "#333"},
       "encoding": {"x": {"datum": 1, "type": "quantitative", "scale": {"type": "log", "domain": [0.15, 6.667]}}, "y": {"field": "row", "type": "nominal", "bandPosition": 1, "scale": {"type": "band", "domain": ["t","h1","h2","r1","r2","r3","r4","r5","r6","r7","c0","c1","c2","c3"], "paddingInner": 0, "paddingOuter": 0.5833333333, "align": 0.7857142857}, "axis": null}, "text": {"field": "label", "type": "nominal"}}},
      {"data": {"values": [{"row": "r7", "label": "average-weight"}]}, "mark": {"type": "text", "align": "left", "dx": 8, "color": "#333"},
       "encoding": {"x": {"datum": 1, "type": "quantitative", "scale": {"type": "log", "domain": [0.15, 6.667]}}, "y": {"field": "row", "type": "nominal", "bandPosition": 1, "scale": {"type": "band", "domain": ["t","h1","h2","r1","r2","r3","r4","r5","r6","r7","c0","c1","c2","c3"], "paddingInner": 0, "paddingOuter": 0.5833333333, "align": 0.7857142857}, "axis": null}, "text": {"field": "label", "type": "nominal"}}},
      {"data": {"name": "C"}, "transform": [{"filter": "datum.sep"}], "mark": {"type": "rule", "color": "#d0d0d0", "strokeWidth": 1},
       "encoding": {"x": {"datum": 0.15, "type": "quantitative", "scale": {"type": "log", "domain": [0.15, 6.667]}}, "x2": {"datum": 7.68},
                    "y": {"field": "line", "type": "nominal", "bandPosition": 0.54, "scale": {"type": "band", "domain": ["t","h1","h2","r1","r2","r3","r4","r5","r6","r7","c0","c1","c2","c3"], "paddingInner": 0, "paddingOuter": 0.5833333333, "align": 0.7857142857}, "axis": null}}}
    ]},
    {"width": 26, "height": 364, "data": {"values": []}, "mark": "point", "encoding": {}}
  ]
}
